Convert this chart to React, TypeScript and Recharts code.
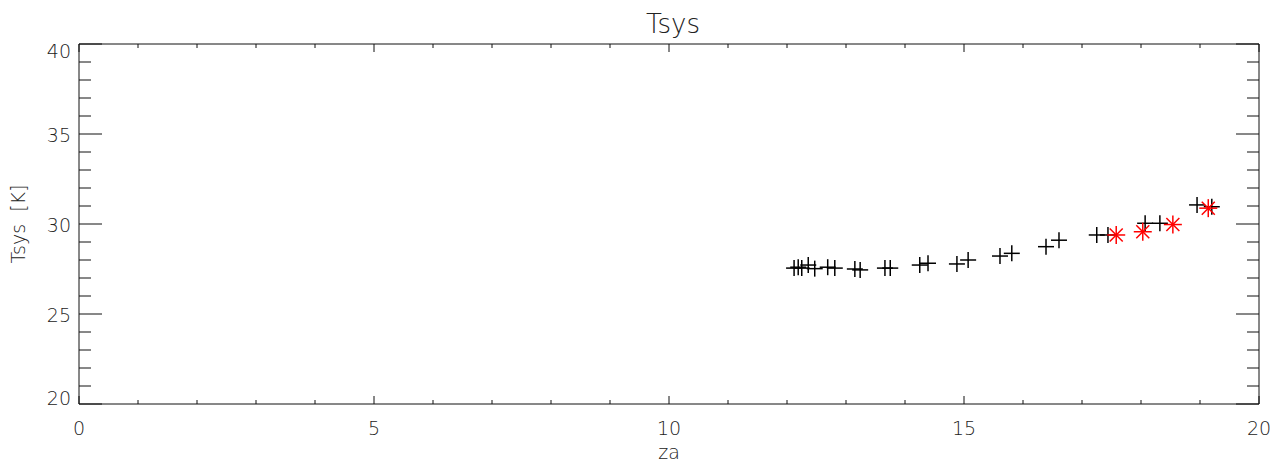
import { ScatterChart, Scatter, XAxis, YAxis } from 'recharts';

// tick positions (minor ticks every unit, labels on multiples of 5)
const xTicks = [0, 1, 2, 3, 4, 5, 6, 7, 8, 9, 10, 11, 12, 13, 14, 15, 16, 17, 18, 19, 20];
const yTicks = [20, 21, 22, 23, 24, 25, 26, 27, 28, 29, 30, 31, 32, 33, 34, 35, 36, 37, 38, 39, 40];

// black "+" points
const crossZa = [12.12, 12.19, 12.25, 12.36, 12.47, 12.69, 12.81, 13.15, 13.24, 13.66, 13.75,
  14.25, 14.39, 14.88, 15.07, 15.61, 15.81, 16.39, 16.61, 17.25, 17.44, 18.07, 18.32, 18.95, 19.2];
const crossTsys = [27.55, 27.6, 27.55, 27.72, 27.52, 27.6, 27.55, 27.5, 27.45, 27.55, 27.55,
  27.72, 27.82, 27.78, 28.0, 28.22, 28.37, 28.74, 29.1, 29.39, 29.39, 30.04, 30.04, 31.06, 30.96];

// red "*" points
const starZa = [17.58, 18.03, 18.54, 19.14];
const starTsys = [29.39, 29.57, 29.97, 30.88];

const crossData = crossZa.map((za, i) => ({ za, tsys: crossTsys[i] }));
const starData = starZa.map((za, i) => ({ za, tsys: starTsys[i] }));

const FONT = '"DejaVu Sans", Verdana, sans-serif';
const INK = '#111';
const TEXT_INK = '#222';
const TEXT_WEIGHT = 200;

const isMajor = (v: number) => v % 5 === 0;

function BottomTick(props: any) {
  const { x, y, payload } = props;
  const v = payload.value;
  return (
    <g>
      <line x1={x} x2={x} y1={y} y2={y - (isMajor(v) ? 8 : 4)} stroke={INK} />
      {isMajor(v) && (
        <text x={x} y={y + 31} textAnchor="middle" fontSize={19} fontFamily={FONT}
          fontWeight={TEXT_WEIGHT} fill={TEXT_INK}>
          {v}
        </text>
      )}
    </g>
  );
}

function TopTick(props: any) {
  const { x, y, payload } = props;
  const v = payload.value;
  return <line x1={x} x2={x} y1={y} y2={y + (isMajor(v) ? 8 : 4)} stroke={INK} />;
}

function LeftTick(props: any) {
  const { x, y, payload } = props;
  const v = payload.value;
  // end labels are pulled inside the box like the original
  let dy = 8;
  if (v === yTicks[yTicks.length - 1]) dy = 14;
  if (v === yTicks[0]) dy = 1;
  return (
    <g>
      <line x1={x} x2={x + (isMajor(v) ? 23 : 12)} y1={y} y2={y} stroke={INK} />
      {isMajor(v) && (
        <text x={x - 8} y={y + dy} textAnchor="end" fontSize={19} fontFamily={FONT}
          fontWeight={TEXT_WEIGHT} fill={TEXT_INK}>
          {v}
        </text>
      )}
    </g>
  );
}

function RightTick(props: any) {
  const { x, y, payload } = props;
  const v = payload.value;
  return <line x1={x} x2={x - (isMajor(v) ? 23 : 12)} y1={y} y2={y} stroke={INK} />;
}

function renderCross(props: any) {
  const { cx, cy } = props;
  return (
    <g>
      <line x1={cx - 8} x2={cx + 8} y1={cy} y2={cy} stroke="#000" strokeWidth={1.5} />
      <line x1={cx} x2={cx} y1={cy - 8} y2={cy + 8} stroke="#000" strokeWidth={1.5} />
    </g>
  );
}

function renderStar(props: any) {
  const { cx, cy } = props;
  const r = 9;
  const d = 6.5;
  return (
    <g stroke="#ff0000" strokeWidth={1.5}>
      <line x1={cx - r} x2={cx + r} y1={cy} y2={cy} />
      <line x1={cx} x2={cx} y1={cy - r} y2={cy + r} />
      <line x1={cx - d} x2={cx + d} y1={cy - d} y2={cy + d} />
      <line x1={cx - d} x2={cx + d} y1={cy + d} y2={cy - d} />
    </g>
  );
}

const renderNothing = () => <g />;

export default function App() {
  return (
    <div style={{ position: 'absolute', left: 0, top: 0, width: 1275, height: 466, background: '#fff' }}>
      <ScatterChart width={1275} height={466} margin={{ top: 43, right: 15, left: 19, bottom: 0 }}>
        <XAxis
          dataKey="za"
          type="number"
          domain={[0, 20]}
          ticks={xTicks}
          interval={0}
          tickSize={0}
          tickMargin={0}
          tick={BottomTick}
          height={62}
          axisLine={{ stroke: INK }}
          label={{
            content: (p: any) => (
              <text x={p.viewBox.x + p.viewBox.width / 2} y={p.viewBox.y + 55} textAnchor="middle"
                fontSize={19} fontFamily={FONT} fontWeight={TEXT_WEIGHT} fill={TEXT_INK}>za</text>
            ),
          }}
        />
        <XAxis
          xAxisId="top"
          dataKey="za"
          orientation="top"
          type="number"
          domain={[0, 20]}
          ticks={xTicks}
          interval={0}
          tickSize={0}
          tickMargin={0}
          tick={TopTick}
          height={1}
          axisLine={{ stroke: INK }}
          label={{
            content: (p: any) => (
              <text x={p.viewBox.x + p.viewBox.width / 2 + 4} y={p.viewBox.y + p.viewBox.height - 11}
                textAnchor="middle" fontSize={26} fontFamily={FONT} fontWeight={TEXT_WEIGHT}
                fill={TEXT_INK}>Tsys</text>
            ),
          }}
        />
        <YAxis
          dataKey="tsys"
          type="number"
          domain={[20, 40]}
          ticks={yTicks}
          interval={0}
          tickSize={0}
          tickMargin={0}
          tick={LeftTick}
          width={60}
          axisLine={{ stroke: INK }}
          label={{
            content: (p: any) => {
              const lx = p.viewBox.x + 6;
              const ly = p.viewBox.y + p.viewBox.height / 2;
              return (
                <text x={lx} y={ly} transform={`rotate(-90, ${lx}, ${ly})`} textAnchor="middle"
                  fontSize={19} fontFamily={FONT} fontWeight={TEXT_WEIGHT} fill={TEXT_INK}
                  style={{ whiteSpace: 'pre' }}>{'Tsys  [K]'}</text>
              );
            },
          }}
        />
        <YAxis
          yAxisId="right"
          dataKey="tsys"
          orientation="right"
          type="number"
          domain={[20, 40]}
          ticks={yTicks}
          interval={0}
          tickSize={0}
          tickMargin={0}
          tick={RightTick}
          width={1}
          axisLine={{ stroke: INK }}
        />
        <Scatter data={crossData} dataKey="tsys" shape={renderCross} isAnimationActive={false} />
        <Scatter data={starData} dataKey="tsys" shape={renderStar} isAnimationActive={false} />
        {/* hidden copy so the top and right frame axes get drawn */}
        <Scatter xAxisId="top" yAxisId="right" data={crossData} dataKey="tsys" shape={renderNothing}
          isAnimationActive={false} />
      </ScatterChart>
    </div>
  );
}
